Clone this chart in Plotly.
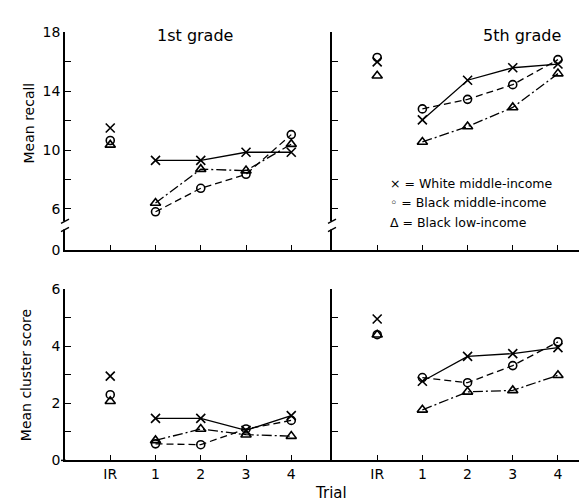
import plotly.graph_objects as go

W, H = 587, 503

trial_labels = ["IR", "1", "2", "3", "4"]
group_names = ["White middle-income", "Black middle-income", "Black low-income"]

# Mean recall (top panels)
recall_g1_white = [11.5, 9.3, 9.3, 9.85, 9.85]
recall_g1_bmid = [10.65, 5.8, 7.4, 8.35, 11.05]
recall_g1_blow = [10.35, 6.4, 8.7, 8.6, 10.4]
recall_g5_white = [16.0, 12.05, 14.75, 15.6, 15.85]
recall_g5_bmid = [16.3, 12.8, 13.45, 14.45, 16.15]
recall_g5_blow = [15.05, 10.55, 11.6, 12.9, 15.2]

# Mean cluster score (bottom panels)
cluster_g1_white = [2.95, 1.47, 1.47, 1.05, 1.57]
cluster_g1_bmid = [2.3, 0.58, 0.55, 1.1, 1.4]
cluster_g1_blow = [2.07, 0.7, 1.1, 0.9, 0.85]
cluster_g5_white = [4.95, 2.77, 3.64, 3.74, 3.95]
cluster_g5_bmid = [4.4, 2.9, 2.72, 3.32, 4.15]
cluster_g5_blow = [4.4, 1.77, 2.4, 2.45, 2.98]

recall_ticks = [6, 8, 10, 12, 14, 16, 18]
recall_labels = ["6", "", "10", "", "14", "", "18"]
recall_axis_floor = 3.18  # position of the "0" after the axis break
cluster_ticks = [0, 1, 2, 3, 4, 5, 6]
cluster_labels = ["0", "", "2", "", "4", "", "6"]

styles = [
    dict(symbol="x-thin-open", size=9, dash="solid"),
    dict(symbol="circle-open", size=8, dash="7px,4px"),
    dict(symbol="triangle-up-open", size=9, dash="10px,3px,2px,3px"),
]

panels = [
    ("x", "y", [recall_g1_white, recall_g1_bmid, recall_g1_blow]),
    ("x2", "y2", [recall_g5_white, recall_g5_bmid, recall_g5_blow]),
    ("x3", "y3", [cluster_g1_white, cluster_g1_bmid, cluster_g1_blow]),
    ("x4", "y4", [cluster_g5_white, cluster_g5_bmid, cluster_g5_blow]),
]

fig = go.Figure()
for xa, ya, series in panels:
    for name, vals, st in zip(group_names, series, styles):
        mk = dict(symbol=st["symbol"], size=st["size"], color="black",
                  line=dict(color="black", width=1.6))
        # IR point, not connected
        fig.add_trace(go.Scatter(x=trial_labels[:1], y=vals[:1], mode="markers",
                                 marker=mk, xaxis=xa, yaxis=ya, name=name,
                                 showlegend=False))
        # Trials 1-4 connected
        fig.add_trace(go.Scatter(x=trial_labels[1:], y=vals[1:], mode="lines+markers",
                                 marker=mk, line=dict(color="black", width=1.3, dash=st["dash"]),
                                 xaxis=xa, yaxis=ya, name=name, showlegend=False))

def px(v):
    return v / W

def py(v):
    return 1 - v / H

font = "DejaVu Sans"
axis_common = dict(showline=True, linecolor="black", linewidth=1.5, ticks="inside",
                   ticklen=6, tickwidth=1.3, tickcolor="black", showgrid=False,
                   zeroline=False, tickfont=dict(family=font, size=14, color="black"))

xl = [px(57), px(324)]
xr = [px(324), 1.0]
yt = [py(242), py(17)]
yb = [py(459), py(282)]

fig.update_layout(
    width=W, height=H, margin=dict(l=0, r=0, t=0, b=0),
    paper_bgcolor="white", plot_bgcolor="white", showlegend=False,
    font=dict(family=font, color="black"),
    xaxis=dict(domain=xl, anchor="y", type="category", categoryorder="array",
               categoryarray=trial_labels, range=[-1, 4.9], showticklabels=False, **axis_common),
    yaxis=dict(domain=yt, anchor="x", range=[recall_axis_floor, 18],
               tickvals=[recall_axis_floor] + recall_ticks, ticktext=["0"] + recall_labels,
               **axis_common),
    xaxis2=dict(domain=xr, anchor="y2", type="category", categoryorder="array",
                categoryarray=trial_labels, range=[-1, 4.82], showticklabels=False, **axis_common),
    yaxis2=dict(domain=yt, anchor="x2", range=[recall_axis_floor, 18],
                tickvals=[recall_axis_floor] + recall_ticks, showticklabels=False, **axis_common),
    xaxis3=dict(domain=xl, anchor="y3", type="category", categoryorder="array",
                categoryarray=trial_labels, range=[-1, 4.9], **axis_common),
    yaxis3=dict(domain=yb, anchor="x3", range=[0, 6], tickvals=cluster_ticks,
                ticktext=cluster_labels, **axis_common),
    xaxis4=dict(domain=xr, anchor="y4", type="category", categoryorder="array",
                categoryarray=trial_labels, range=[-1, 4.82], **axis_common),
    yaxis4=dict(domain=yb, anchor="x4", range=[0, 6], tickvals=cluster_ticks,
                showticklabels=False, **axis_common),
)

# Axis break marks on the recall axes
shapes = []
for ax_x in (57, 324):
    shapes.append(dict(type="rect", xref="paper", yref="paper",
                       x0=px(ax_x - 3), x1=px(ax_x + 3), y0=py(220.5), y1=py(212),
                       fillcolor="white", line=dict(width=0)))
    for cy in (212, 220.5):
        shapes.append(dict(type="line", xref="paper", yref="paper",
                           x0=px(ax_x - 4), y0=py(cy + 2.2), x1=px(ax_x + 4), y1=py(cy - 2.2),
                           line=dict(color="black", width=1.4)))
# bottom-left x-axis line extends slightly left of the y-axis
shapes.append(dict(type="line", xref="paper", yref="paper", x0=px(53), x1=px(58),
                   y0=py(459), y1=py(459), line=dict(color="black", width=1.5)))
fig.update_layout(shapes=shapes)

ann = []
ann.append(dict(text="1st grade", x=px(187), y=py(20), xref="paper", yref="paper",
                showarrow=False, font=dict(size=16), xanchor="center", yanchor="middle"))
ann.append(dict(text="5th grade", x=px(514), y=py(20), xref="paper", yref="paper",
                showarrow=False, font=dict(size=16), xanchor="center", yanchor="middle"))
ann.append(dict(text="Mean recall", x=px(21), y=py(111), xref="paper", yref="paper",
                showarrow=False, textangle=-90, font=dict(size=14),
                xanchor="center", yanchor="middle"))
ann.append(dict(text="Mean cluster score", x=px(18), y=py(371), xref="paper", yref="paper",
                showarrow=False, textangle=-90, font=dict(size=14),
                xanchor="center", yanchor="middle"))
ann.append(dict(text="Trial", x=px(323), y=py(493), xref="paper", yref="paper",
                showarrow=False, font=dict(size=15), xanchor="center", yanchor="middle"))
legend_symbols = ["×", "◦", "Δ"]
for i, (sym, name) in enumerate(zip(legend_symbols, group_names)):
    ann.append(dict(text=f"{sym} = {name}", x=px(380), y=py(173 + 20 * i),
                    xref="paper", yref="paper", showarrow=False, font=dict(size=12.5),
                    xanchor="left", yanchor="middle"))
fig.update_layout(annotations=ann)

fig.write_html("out.html")
